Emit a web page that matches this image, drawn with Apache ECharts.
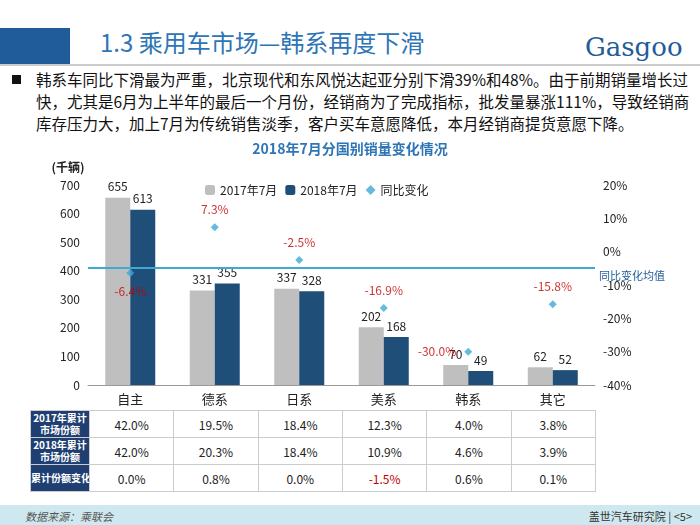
<!DOCTYPE html>
<html><head><meta charset="utf-8">
<script src="https://cdn.jsdelivr.net/npm/echarts@6/dist/echarts.min.js"></script>
<style>
body{margin:0;width:700px;height:525px;position:relative;background:#fff;font-family:"Noto Sans CJK SC",sans-serif;overflow:hidden}
#hdr{position:absolute;left:0;top:28px;width:70px;height:36px;background:#1f5c99}
#title{position:absolute;left:100px;top:24px;font-size:24px;color:#2e75b6}
#logo{position:absolute;left:585px;top:32px;font-size:26px;color:#1f5c99;font-family:"DejaVu Serif",serif}
#rule{position:absolute;left:0;top:64px;width:700px;height:2px;background:#ccc}
#txt{position:absolute;left:12px;top:68px;width:680px;font-size:15.5px;line-height:22px;color:#111}
#txt p{margin:0;padding-left:24px;position:relative}
#txt p:before{content:"";position:absolute;left:0;top:7px;width:9px;height:9px;background:#111}
#chart{position:absolute;left:0;top:135px;width:700px;height:275px}
table{position:absolute;left:30px;top:410px;border-collapse:collapse;font-size:12px;table-layout:fixed;width:566px}
td{border:1px solid #ccc;height:26px;padding:0;text-align:center;color:#222;overflow:hidden}
td.h{background:#1f3f73;color:#fff;font-weight:bold;width:58px;font-size:10px;line-height:12px;white-space:nowrap}
#foot{position:absolute;left:0;top:505px;width:700px;height:20px;background:#cfe8ef;font-size:11px}
</style></head><body>
<div id="hdr"></div>
<div id="title">1.3 乘用车市场—韩系再度下滑</div>
<div id="logo">Gasgoo</div>
<div id="rule"></div>
<div id="txt"><p>韩系车同比下滑最为严重，北京现代和东风悦达起亚分别下滑39%和48%。由于前期销量增长过快，尤其是6月为上半年的最后一个月份，经销商为了完成指标，批发量暴涨111%，导致经销商库存压力大，加上7月为传统销售淡季，客户买车意愿降低，本月经销商提货意愿下降。</p></div>
<div id="chart"></div>
<table id="tbl"></table>
<div id="foot"><span style="position:absolute;left:25px;top:3px;color:#555;font-style:italic">数据来源：乘联会</span><span style="position:absolute;right:8px;top:3px;color:#333">盖世汽车研究院 | &lt;5&gt;</span></div>
<script>
const categories = ["自主","德系","日系","美系","韩系","其它"];
const sales2017 = [655,331,337,202,70,62];
const sales2018 = [613,355,328,168,49,52];
const yoyChange = [-6.4,7.3,-2.5,-16.9,-30.0,-15.8];
const yoyAverage = -4.9;
const rowNames = ["2017年累计<br>市场份额","2018年累计<br>市场份额","累计份额变化"];
const share2017 = ["42.0%","19.5%","18.4%","12.3%","4.0%","3.8%"];
const share2018 = ["42.0%","20.3%","18.4%","10.9%","4.6%","3.9%"];
const shareChange = ["0.0%","0.8%","0.0%","-1.5%","0.6%","0.1%"];

const tbl = document.getElementById("tbl");
[share2017,share2018,shareChange].forEach((row,i)=>{
  let h = '<tr><td class="h">'+rowNames[i]+'</td>';
  row.forEach(v=>{ h += '<td style="color:'+(v.startsWith("-")?"#c00000":"#222")+'">'+v+'</td>'; });
  tbl.innerHTML += h+'</tr>';
});

const labelPos = ["bottom","top","top","top","left","top"];
const myChart = echarts.init(document.getElementById("chart"));
myChart.setOption({
  animation:false,
  textStyle:{fontFamily:"Noto Sans CJK SC"},
  title:{text:"2018年7月分国别销量变化情况",left:"center",top:2,textStyle:{color:"#2e75b6",fontSize:14,fontWeight:"bold"}},
  legend:{top:44,left:200,itemWidth:10,itemHeight:10,textStyle:{fontSize:12,color:"#222"},
    data:["2017年7月","2018年7月",{name:"同比变化",icon:"diamond"}]},
  grid:{left:88,right:105,top:50,bottom:25},
  xAxis:{type:"category",data:categories,axisTick:{show:false},axisLine:{lineStyle:{color:"#999"}},
    axisLabel:{color:"#222",fontSize:13,margin:8}},
  yAxis:[
    {type:"value",min:0,max:700,interval:100,name:"(千辆)",nameGap:12,nameTextStyle:{color:"#222",fontWeight:"bold",padding:[0,40,0,0]},
      splitLine:{show:false},axisLabel:{color:"#222",fontSize:12}},
    {type:"value",min:-40,max:20,interval:10,splitLine:{show:false},axisLabel:{color:"#222",fontSize:12,formatter:"{value}%"}}
  ],
  series:[
    {name:"2017年7月",type:"bar",data:sales2017,barWidth:25,barGap:"0%",itemStyle:{color:"#bfbfbf"},
      label:{show:true,position:"top",color:"#222",fontSize:12}},
    {name:"2018年7月",type:"bar",data:sales2018,barWidth:25,itemStyle:{color:"#1f4e79"},
      label:{show:true,position:"top",color:"#222",fontSize:12}},
    {name:"同比变化",type:"scatter",yAxisIndex:1,symbol:"diamond",symbolSize:8,itemStyle:{color:"#3fa9d6"},
      data:yoyChange.map((v,i)=>({value:v,label:{position:labelPos[i]}})),
      label:{show:true,color:"#c00000",fontSize:12,distance:8,formatter:p=>p.value.toFixed(1)+"%"},
      markLine:{symbol:"none",silent:true,lineStyle:{color:"#3fa9d6",width:2,type:"solid"},
        label:{position:"end",formatter:"同比变化均值",color:"#1f5c99",fontSize:11,distance:4,offset:[0,8]},
        data:[{yAxis:yoyAverage}]}}
  ]
});
</script>
</body></html>
